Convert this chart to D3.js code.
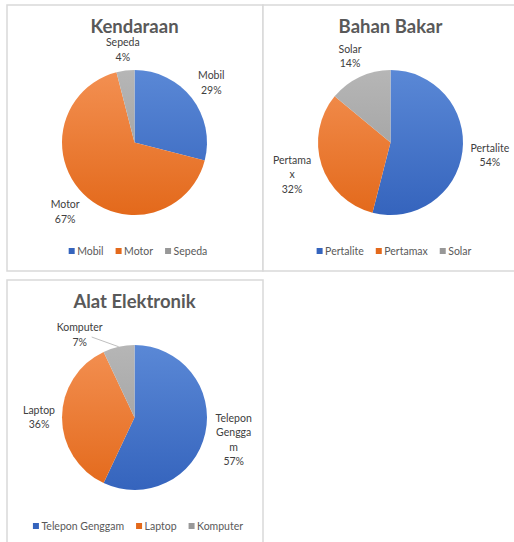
<!DOCTYPE html>
<html>
<head>
<meta charset="utf-8">
<script src="https://cdn.jsdelivr.net/npm/d3@7"></script>
<style>
  body { margin: 0; background: #fff; }
  svg { display: block; }
  text { font-family: Lato, "Noto Sans", sans-serif; }
</style>
</head>
<body>
<svg id="chart" width="514" height="542"></svg>
<script>
// chart data
const titles = ["Kendaraan", "Bahan Bakar", "Alat Elektronik"];

const kendaraanNames = ["Mobil", "Motor", "Sepeda"];
const kendaraanValues = [29, 67, 4];
const kendaraanLabelText = ["Mobil", "Motor", "Sepeda"];

const bahanNames = ["Pertalite", "Pertamax", "Solar"];
const bahanValues = [54, 32, 14];
const bahanLabelText = ["Pertalite", "Pertama\nx", "Solar"];

const elektronikNames = ["Telepon Genggam", "Laptop", "Komputer"];
const elektronikValues = [57, 36, 7];
const elektronikLabelText = ["Telepon\nGengga\nm", "Laptop", "Komputer"];

const colors = [
    ["#5a88d6", "#3564bd"],   // blue
    ["#f39052", "#e3691b"],   // orange
    ["#b6b6b6", "#989898"]    // gray
];

const svg = d3.select("#chart");
const radius = 72.5;
const fontSize = 10.5;

// gradients, top lighter to bottom darker
const defs = svg.append("defs");
colors.forEach((c, i) => {
    const g = defs.append("linearGradient")
        .attr("id", "grad" + i)
        .attr("gradientUnits", "userSpaceOnUse")
        .attr("x1", 0).attr("y1", -radius)
        .attr("x2", 0).attr("y2", radius);
    g.append("stop").attr("offset", "0%").attr("stop-color", c[0]);
    g.append("stop").attr("offset", "100%").attr("stop-color", c[1]);
});

// panels
const panels = [
    {x: 7, y: 5, w: 256, h: 266, names: kendaraanNames, values: kendaraanValues, text: kendaraanLabelText, nudge: {}},
    {x: 263, y: 5, w: 262, h: 266, names: bahanNames, values: bahanValues, text: bahanLabelText, nudge: {}},
    {x: 7, y: 280, w: 256, h: 272, names: elektronikNames, values: elektronikValues, text: elektronikLabelText, nudge: {2: -21}}
];

const pie = d3.pie().sort(null).value(d => d);
const arc = d3.arc().innerRadius(0).outerRadius(radius);

panels.forEach((p, k) => {
    const g = svg.append("g").attr("transform", `translate(${p.x},${p.y})`);

    g.append("rect")
        .attr("width", p.w).attr("height", p.h)
        .attr("fill", "#fff")
        .attr("stroke", "#d9d9d9")
        .attr("stroke-width", 1.5);

    const cx = 127.5, cy = 137.5;

    g.append("text")
        .attr("x", cx).attr("y", 28)
        .attr("text-anchor", "middle")
        .attr("font-size", 18.5)
        .attr("font-weight", "bold")
        .attr("fill", "#595959")
        .text(titles[k]);

    const pg = g.append("g").attr("transform", `translate(${cx},${cy})`);
    const arcs = pie(p.values);
    const total = d3.sum(p.values);

    pg.selectAll("path")
        .data(arcs)
        .join("path")
        .attr("d", arc)
        .attr("fill", (d, i) => `url(#grad${i})`);

    // data labels, box kept a small gap outside the pie edge
    arcs.forEach((d, i) => {
        const mid = (d.startAngle + d.endAngle) / 2;
        const a = mid + (p.nudge[i] || 0) * Math.PI / 180;
        const lines = p.text[i].split("\n").concat(Math.round(d.value / total * 100) + "%");
        const lh = 14.5;
        const t = pg.append("text")
            .attr("text-anchor", "middle")
            .attr("font-size", fontSize)
            .attr("fill", "#404040");
        lines.forEach((s, j) => {
            t.append("tspan")
                .attr("x", 0)
                .attr("y", -(lines.length - 1) * lh / 2 + j * lh + 3.7)
                .text(s);
        });
        const hw = d3.max(t.selectAll("tspan").nodes(), n => n.getComputedTextLength()) / 2;
        const hh = Math.min((lines.length - 1) * lh / 2, 16) + 4.5;
        const ext = Math.abs(Math.sin(a)) * hw + Math.abs(Math.cos(a)) * hh;
        const lr = radius + (p.nudge[i] ? 4 : 7) + ext;
        const lx = lr * Math.sin(a), ly = -lr * Math.cos(a);
        t.attr("transform", `translate(${lx},${ly})`);
        if (p.nudge[i]) {
            // leader line back to slice edge
            pg.append("line")
                .attr("x1", lx + 12).attr("y1", ly + 2)
                .attr("x2", radius * Math.sin(mid)).attr("y2", -radius * Math.cos(mid))
                .attr("stroke", "#bfbfbf")
                .attr("stroke-width", 1);
        }
    });

    // legend
    const lg = g.append("g");
    const items = lg.selectAll("g")
        .data(p.names)
        .join("g");
    items.append("rect")
        .attr("width", 6).attr("height", 6)
        .attr("y", -3)
        .attr("fill", (d, i) => colors[i][1]);
    items.append("text")
        .attr("x", 8.5).attr("y", 3.7)
        .attr("font-size", fontSize)
        .attr("fill", "#595959")
        .text(d => d);
    let xoff = 0;
    items.each(function() {
        const w = this.querySelector("text").getComputedTextLength() + 8.5;
        this.setAttribute("transform", `translate(${xoff},0)`);
        xoff += w + 12;
    });
    const totalW = xoff - 12;
    lg.attr("transform", `translate(${131 - totalW / 2},246)`);
});
</script>
</body>
</html>
